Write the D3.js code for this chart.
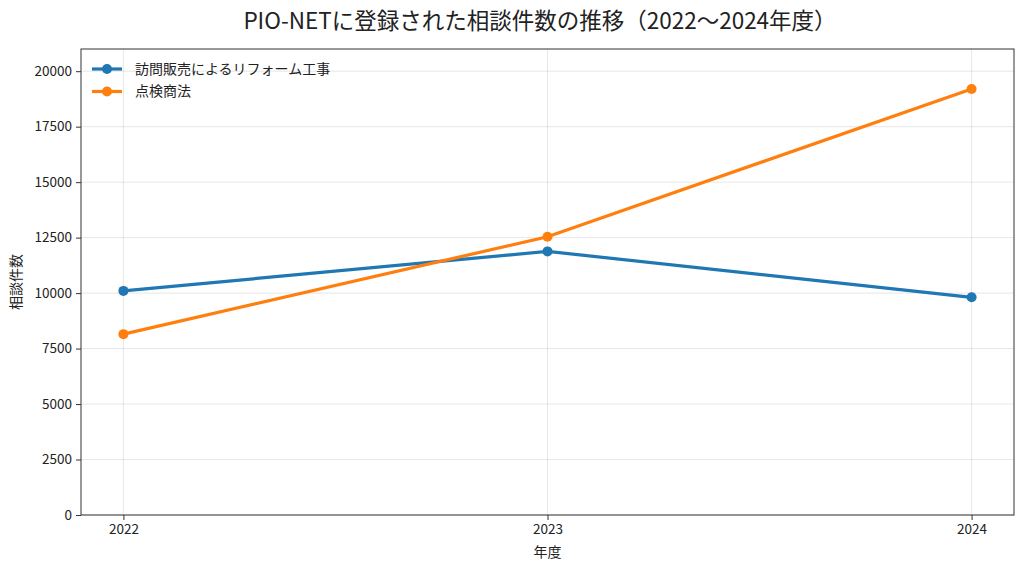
<!DOCTYPE html>
<html>
<head>
<meta charset="utf-8">
<script src="https://cdn.jsdelivr.net/npm/d3@7"></script>
<style>
  body { margin: 0; background: #fff; }
  svg text { font-family: "Noto Sans CJK JP", "Noto Sans", sans-serif; fill: #222; }
</style>
</head>
<body>
<svg id="chart" width="1024" height="570"></svg>
<script>
// data
var years = [2022, 2023, 2024];
var reformValues = [10100, 11880, 9810];
var tenkenValues = [8150, 12540, 19200];
var seriesNames = ['訪問販売によるリフォーム工事', '点検商法'];
var seriesColors = ['#1f77b4', '#ff7f0e'];
var yTicks = [0, 2500, 5000, 7500, 10000, 12500, 15000, 17500, 20000];

var margin = {top: 49, right: 10, bottom: 55, left: 81};
var width = 1024, height = 570;
var svg = d3.select('#chart');

var x = d3.scaleLinear()
        .domain([2022 - 0.1, 2024 + 0.1])
        .range([margin.left, width - margin.right]);
var y = d3.scaleLinear()
        .domain([0, 21000])
        .range([height - margin.bottom, margin.top]);

// grid
svg.append('g').selectAll('line').data(yTicks).enter()
        .append('line')
        .attr('x1', margin.left).attr('x2', width - margin.right)
        .attr('y1', function(d) { return y(d); })
        .attr('y2', function(d) { return y(d); })
        .attr('stroke', '#b0b0b0').attr('stroke-opacity', 0.3).attr('stroke-width', 1);
svg.append('g').selectAll('line').data(years).enter()
        .append('line')
        .attr('y1', margin.top).attr('y2', height - margin.bottom)
        .attr('x1', function(d) { return x(d); })
        .attr('x2', function(d) { return x(d); })
        .attr('stroke', '#b0b0b0').attr('stroke-opacity', 0.3).attr('stroke-width', 1);

// axes
var xAxis = svg.append('g')
        .attr('transform', 'translate(0,' + (height - margin.bottom) + ')')
        .call(d3.axisBottom(x).tickValues(years).tickFormat(d3.format('d')).tickSizeOuter(0).tickSize(5).tickPadding(4));
var yAxis = svg.append('g')
        .attr('transform', 'translate(' + margin.left + ',0)')
        .call(d3.axisLeft(y).tickValues(yTicks).tickFormat(d3.format('d')).tickSizeOuter(0).tickSize(5).tickPadding(4));
[xAxis, yAxis].forEach(function(a) {
    a.select('.domain').remove();
    a.selectAll('line').attr('stroke', '#333');
    a.selectAll('text').attr('font-size', '13.5px').attr('fill', '#222')
            .style('font-family', '"Noto Sans CJK JP", sans-serif');
});

// frame
svg.append('rect')
        .attr('x', margin.left).attr('y', margin.top)
        .attr('width', width - margin.right - margin.left)
        .attr('height', height - margin.bottom - margin.top)
        .attr('fill', 'none').attr('stroke', '#333').attr('stroke-width', 1);

// lines
var line = d3.line()
        .x(function(d, i) { return x(years[i]); })
        .y(function(d) { return y(d); });

[reformValues, tenkenValues].forEach(function(values, k) {
    svg.append('path').datum(values)
            .attr('d', line)
            .attr('fill', 'none')
            .attr('stroke', seriesColors[k])
            .attr('stroke-width', 3.2);
    svg.append('g').selectAll('circle').data(values).enter()
            .append('circle')
            .attr('cx', function(d, i) { return x(years[i]); })
            .attr('cy', function(d) { return y(d); })
            .attr('r', 5)
            .attr('fill', seriesColors[k]);
});

// legend
var legend = svg.append('g').selectAll('g').data(seriesNames).enter()
        .append('g')
        .attr('transform', function(d, i) { return 'translate(92,' + (69 + i * 22.5) + ')'; });
legend.append('line')
        .attr('x1', 0).attr('x2', 30)
        .attr('stroke', function(d, i) { return seriesColors[i]; })
        .attr('stroke-width', 3.2);
legend.append('circle')
        .attr('cx', 15).attr('r', 5)
        .attr('fill', function(d, i) { return seriesColors[i]; });
legend.append('text')
        .attr('x', 43).attr('dy', '0.35em')
        .attr('font-size', '14px')
        .text(function(d) { return d; });

// title and labels
svg.append('text')
        .attr('x', 540)
        .attr('y', 29)
        .attr('text-anchor', 'middle')
        .attr('font-size', '22.5px')
        .text('PIO-NETに登録された相談件数の推移（2022〜2024年度）');
svg.append('text')
        .attr('x', (margin.left + width - margin.right) / 2)
        .attr('y', 557)
        .attr('text-anchor', 'middle')
        .attr('font-size', '14px')
        .text('年度');
svg.append('text')
        .attr('transform', 'translate(21,' + ((margin.top + height - margin.bottom) / 2) + ') rotate(-90)')
        .attr('text-anchor', 'middle')
        .attr('font-size', '14px')
        .text('相談件数');
</script>
</body>
</html>
